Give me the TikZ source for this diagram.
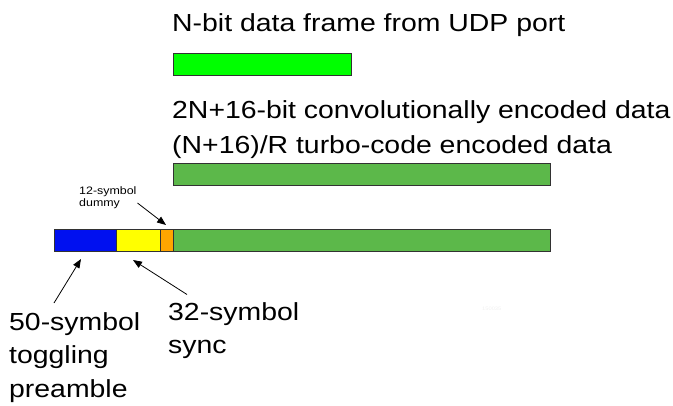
\documentclass[tikz,border=0pt]{standalone}
\usepackage{fontspec}
\setmainfont{Liberation Sans}[FakeStretch=1.15]
\usetikzlibrary{arrows.meta}
\definecolor{brightgreen}{RGB}{0,255,0}
\definecolor{codegreen}{RGB}{92,184,74}
\definecolor{preblue}{RGB}{0,16,240}
\definecolor{syncyellow}{RGB}{255,255,0}
\definecolor{dummyorange}{RGB}{255,165,0}
\definecolor{edgegray}{RGB}{50,50,50}
\tikzset{
  bar/.style={draw=edgegray, line width=1pt, inner sep=0pt, outer sep=0pt},
  biglabel/.style={inner sep=0pt, anchor=base west, align=left,
    font=\fontsize{24.7}{33.5}\selectfont},
  smalllabel/.style={inner sep=0pt, anchor=base west, align=left,
    font=\fontsize{10.8}{12.6}\selectfont},
  pointer/.style={line width=0.8pt, -{Triangle[length=9pt,width=7pt]}}
}
\begin{document}
\begin{tikzpicture}[x=1pt,y=-1pt]
\useasboundingbox (0,0) rectangle (673,405);

% raw data frame
\node[biglabel] (rawtxt) at (172,31) {N-bit data frame from UDP port};
\draw[bar, fill=brightgreen] (173,53) rectangle (351,75);
\node[inner sep=0pt] (raw) at (262,64) {};

% encoded data (anchor sits on the last baseline)
\node[biglabel, font=\fontsize{24.7}{35}\selectfont] (enctxt) at (172,153) {2N+16-bit convolutionally encoded data\\(N+16)/R turbo-code encoded data};
\draw[bar, fill=codegreen] (173,163) rectangle (550,185);

% transmitted frame
\path[bar, fill=preblue] (54,229) rectangle (116.5,251);
\node[inner sep=0pt, minimum width=62.5pt, minimum height=22pt] (pre) at (85.25,240) {};
\path[bar, fill=syncyellow] (116.5,229) rectangle (160,251);
\node[inner sep=0pt, minimum width=43.5pt, minimum height=22pt] (sync) at (138.25,240) {};
\path[bar, fill=dummyorange] (160,229) rectangle (173.5,251);
\node[inner sep=0pt, minimum width=13.5pt, minimum height=22pt] (dummy) at (166.75,240) {};
\path[bar, fill=codegreen] (173.5,229) rectangle (550,251);
\draw[bar] (54,229) rectangle (550,251);
\draw[bar] (116.5,229) -- (116.5,251) (160,229) -- (160,251) (173.5,229) -- (173.5,251);

% labels and pointers
\node[smalllabel] (dummytxt) at (79,206.6) {12-symbol\\dummy};
\coordinate (dummyfrom) at (137.5,203);
\coordinate (dummyto) at (166,225);
\draw[pointer] (dummyfrom) -- (dummyto);

\node[biglabel] (pretxt) at (9,397) {50-symbol\\toggling\\preamble};
\coordinate (prefrom) at (54,303);
\coordinate (preto) at (81,259);
\draw[pointer] (prefrom) -- (preto);

\node[biglabel] (synctxt) at (168,353.5) {32-symbol\\sync};
\coordinate (syncfrom) at (187,294.5);
\coordinate (syncto) at (133,260);
\draw[pointer] (syncfrom) -- (syncto);

\node[inner sep=0pt, anchor=base west, text=black!6, font=\fontsize{5}{6}\selectfont] (tag) at (482,310) {150035};
\end{tikzpicture}
\end{document}
